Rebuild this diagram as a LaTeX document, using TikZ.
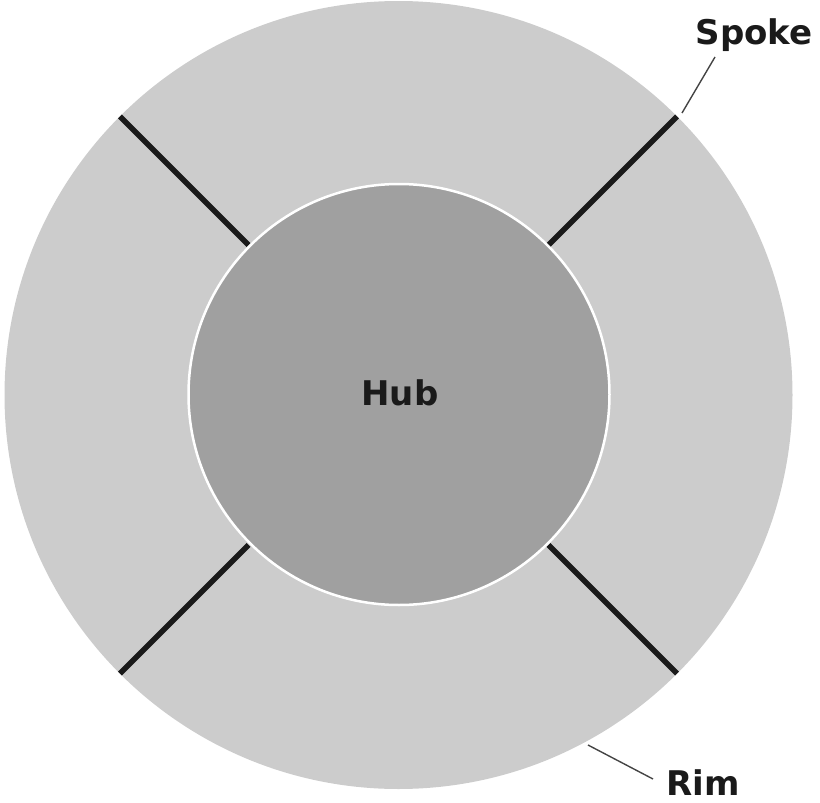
\documentclass[tikz,border=0pt]{standalone}
\usepackage{fontspec}
\setmainfont{DejaVu Sans}
\definecolor{rimgray}{HTML}{CCCCCC}
\definecolor{hubgray}{HTML}{A0A0A0}
\definecolor{spokeblack}{HTML}{1A1A1A}
\definecolor{leadergray}{HTML}{444444}
\tikzset{
  lbl/.style={font=\bfseries\fontsize{34}{40}\selectfont, text=spokeblack, anchor=base, inner sep=0pt},
  spokeline/.style={draw=spokeblack, line width=5.5pt},
  leader/.style={draw=leadergray, line width=1.4pt},
  disc/.style={circle, inner sep=0pt, outer sep=0pt}
}
\begin{document}
\begin{tikzpicture}[x=1pt,y=-1pt]
\useasboundingbox (0,0) rectangle (820,803);
\node[disc, fill=rimgray, minimum size=788pt] (rim) at (398.5,395) {};
\path (rim.center) ++(45:212) coordinate (in45) ++(45:182) coordinate (out45);
\path (rim.center) ++(135:212) coordinate (in135) ++(135:182) coordinate (out135);
\path (rim.center) ++(225:212) coordinate (in225) ++(225:182) coordinate (out225);
\path (rim.center) ++(315:212) coordinate (in315) ++(315:182) coordinate (out315);
\draw[spokeline] (in45) -- (out45);
\draw[spokeline] (in135) -- (out135);
\draw[spokeline] (in225) -- (out225);
\draw[spokeline] (in315) -- (out315);
\node[disc, fill=hubgray, draw=white, line width=2.5pt, minimum size=421pt] (hub) at (399,394.5) {};
\node[lbl] (hubtext) at (400,405) {Hub};
\node[lbl] (spoketext) at (754,44) {Spoke};
\node[lbl] (rimtext) at (703,795) {Rim};
\coordinate (spokeA) at (682,113);
\coordinate (spokeB) at (715,57);
\coordinate (rimA) at (588,745);
\coordinate (rimB) at (653,779);
\draw[leader] (spokeA) -- (spokeB);
\draw[leader] (rimA) -- (rimB);
\end{tikzpicture}
\end{document}
